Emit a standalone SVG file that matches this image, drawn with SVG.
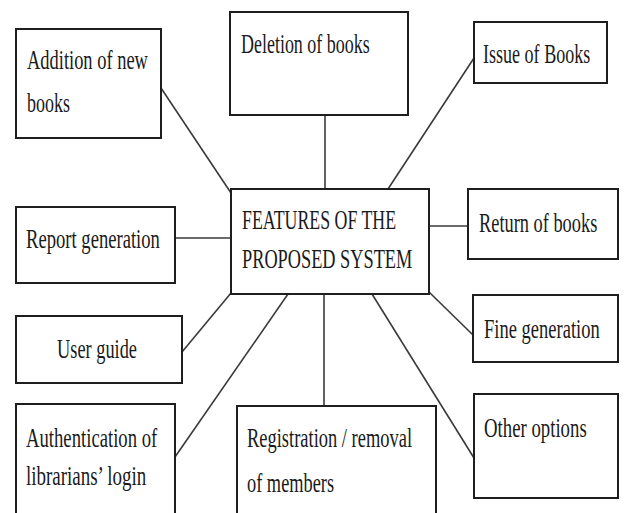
<svg xmlns="http://www.w3.org/2000/svg" width="625" height="513" viewBox="0 0 625 513">
  <style>
    .box { fill: #ffffff; stroke: #1e1e1e; stroke-width: 2; }
    .link { fill: none; stroke: #3a3a3a; stroke-width: 1.6; }
    text { font-family: "Liberation Serif", "DejaVu Serif", serif; font-size: 28px; fill: #1a1a1a; }
  </style>
  <rect width="625" height="513" fill="#ffffff"/>

  <!-- connectors from the central box to each feature -->
  <g id="connectors">
    <line class="link" x1="161" y1="88" x2="231" y2="193"/>
    <line class="link" x1="325" y1="115" x2="325" y2="189"/>
    <line class="link" x1="474" y1="58" x2="388" y2="189"/>
    <line class="link" x1="175" y1="238" x2="231" y2="238"/>
    <line class="link" x1="429" y1="226" x2="468" y2="226"/>
    <line class="link" x1="429" y1="292" x2="473" y2="335"/>
    <line class="link" x1="231" y1="293" x2="182" y2="352"/>
    <line class="link" x1="288" y1="294" x2="175" y2="457"/>
    <line class="link" x1="324" y1="294" x2="324" y2="406"/>
    <line class="link" x1="372" y1="294" x2="474" y2="458"/>
  </g>

  <!-- labels are set in a narrowed serif: each text is squeezed horizontally by scale(0.65,1),
       textLength values are in the squeezed coordinate system (width / 0.65) -->
  <g id="center">
    <rect class="box" x="231" y="189" width="198" height="105"/>
    <text transform="translate(242,229) scale(0.65,1)" textLength="237" lengthAdjust="spacingAndGlyphs">FEATURES OF THE</text>
    <text transform="translate(242,268) scale(0.65,1)" textLength="262" lengthAdjust="spacingAndGlyphs">PROPOSED SYSTEM</text>
  </g>

  <g id="addition">
    <rect class="box" x="16" y="29" width="145" height="109"/>
    <text transform="translate(27,69) scale(0.65,1)" textLength="186" lengthAdjust="spacingAndGlyphs">Addition of new</text>
    <text transform="translate(27,112) scale(0.65,1)" textLength="66" lengthAdjust="spacingAndGlyphs">books</text>
  </g>

  <g id="deletion">
    <rect class="box" x="230" y="12" width="178" height="103"/>
    <text transform="translate(241,53) scale(0.65,1)" textLength="198" lengthAdjust="spacingAndGlyphs">Deletion of books</text>
  </g>

  <g id="issue">
    <rect class="box" x="474" y="22" width="133" height="61"/>
    <text transform="translate(483,63) scale(0.65,1)" textLength="165" lengthAdjust="spacingAndGlyphs">Issue of Books</text>
  </g>

  <g id="report">
    <rect class="box" x="16" y="207" width="159" height="76"/>
    <text transform="translate(26,248) scale(0.65,1)" textLength="206" lengthAdjust="spacingAndGlyphs">Report generation</text>
  </g>

  <g id="return">
    <rect class="box" x="468" y="189" width="150" height="70"/>
    <text transform="translate(479,232) scale(0.65,1)" textLength="182" lengthAdjust="spacingAndGlyphs">Return of books</text>
  </g>

  <g id="fine">
    <rect class="box" x="473" y="295" width="145" height="67"/>
    <text transform="translate(484,338) scale(0.65,1)" textLength="178" lengthAdjust="spacingAndGlyphs">Fine generation</text>
  </g>

  <g id="user-guide">
    <rect class="box" x="16" y="316" width="166" height="67"/>
    <text transform="translate(57,358) scale(0.65,1)" textLength="123" lengthAdjust="spacingAndGlyphs">User guide</text>
  </g>

  <g id="authentication">
    <rect class="box" x="16" y="404" width="159" height="120"/>
    <text transform="translate(26,447) scale(0.65,1)" textLength="202" lengthAdjust="spacingAndGlyphs">Authentication of</text>
    <text transform="translate(26,485) scale(0.65,1)" textLength="185" lengthAdjust="spacingAndGlyphs">librarians’ login</text>
  </g>

  <g id="registration">
    <rect class="box" x="237" y="406" width="199" height="120"/>
    <text transform="translate(247,447) scale(0.65,1)" textLength="254" lengthAdjust="spacingAndGlyphs">Registration / removal</text>
    <text transform="translate(247,492) scale(0.65,1)" textLength="134" lengthAdjust="spacingAndGlyphs">of members</text>
  </g>

  <g id="other">
    <rect class="box" x="474" y="394" width="144" height="104"/>
    <text transform="translate(484,437) scale(0.65,1)" textLength="158" lengthAdjust="spacingAndGlyphs">Other options</text>
  </g>
</svg>
